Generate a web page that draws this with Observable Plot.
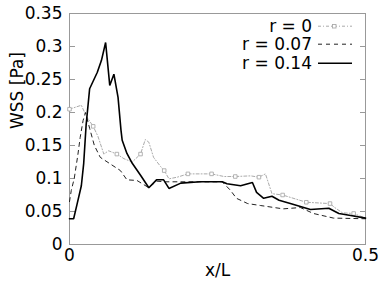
<!DOCTYPE html>
<html>
<head>
<meta charset="utf-8">
<script src="https://cdn.jsdelivr.net/npm/d3@7"></script>
<script src="https://cdn.jsdelivr.net/npm/@observablehq/plot@0.6"></script>
<style>
  body { margin: 0; background: #fff; }
  #wrap { position: relative; width: 385px; height: 286px; font-family: "DejaVu Sans", sans-serif; }
  #legend { position: absolute; left: 0; top: 17px; width: 385px; font-size: 17px; color: #000; }
  .row { position: relative; height: 18.3px; line-height: 18.3px; }
  .row span { position: absolute; right: 73px; white-space: nowrap; }
  .row svg { position: absolute; left: 317px; top: 0; }
</style>
</head>
<body>
<div id="wrap"><div id="legend"></div></div>
<script>
// Series: r = 0 (dash-dot with square markers)
const r0X = [0, 0.020, 0.028, 0.040, 0.048, 0.058, 0.066, 0.080, 0.092, 0.106, 0.120, 0.128, 0.134, 0.142, 0.154, 0.160, 0.168, 0.182, 0.200, 0.240, 0.261, 0.280, 0.306, 0.320, 0.331, 0.342, 0.360, 0.400, 0.440, 0.448, 0.461, 0.480, 0.500];
const r0Y = [0.205, 0.211, 0.195, 0.179, 0.164, 0.137, 0.142, 0.137, 0.130, 0.125, 0.137, 0.159, 0.155, 0.132, 0.118, 0.112, 0.0995, 0.102, 0.107, 0.107, 0.103, 0.103, 0.104, 0.102, 0.107, 0.077, 0.075, 0.064, 0.062, 0.056, 0.048, 0.047, 0.040];
const r0MarkerX = [0, 0.040, 0.080, 0.120, 0.160, 0.200, 0.240, 0.280, 0.320, 0.360, 0.400, 0.440, 0.480];

// Series: r = 0.07 (dashed)
const r07X = [0, 0.003, 0.008, 0.014, 0.018, 0.023, 0.027, 0.034, 0.042, 0.052, 0.069, 0.086, 0.097, 0.114, 0.134, 0.147, 0.162, 0.188, 0.221, 0.258, 0.272, 0.282, 0.301, 0.323, 0.361, 0.390, 0.412, 0.446, 0.500];
const r07Y = [0.065, 0.082, 0.100, 0.135, 0.162, 0.188, 0.200, 0.176, 0.150, 0.132, 0.122, 0.112, 0.098, 0.097, 0.086, 0.096, 0.095, 0.095, 0.095, 0.095, 0.082, 0.070, 0.062, 0.059, 0.054, 0.056, 0.047, 0.040, 0.039];

// Series: r = 0.14 (solid)
const r14X = [0, 0.007, 0.013, 0.020, 0.024, 0.028, 0.034, 0.047, 0.054, 0.061, 0.068, 0.075, 0.082, 0.087, 0.089, 0.097, 0.106, 0.120, 0.134, 0.147, 0.159, 0.168, 0.188, 0.221, 0.258, 0.266, 0.289, 0.309, 0.316, 0.328, 0.342, 0.354, 0.373, 0.407, 0.438, 0.455, 0.475, 0.500];
const r14Y = [0.039, 0.039, 0.062, 0.089, 0.123, 0.180, 0.236, 0.261, 0.279, 0.306, 0.241, 0.258, 0.223, 0.173, 0.158, 0.138, 0.123, 0.105, 0.086, 0.098, 0.098, 0.085, 0.093, 0.095, 0.095, 0.092, 0.089, 0.094, 0.079, 0.070, 0.073, 0.067, 0.062, 0.053, 0.055, 0.047, 0.044, 0.040];

const seriesNames = ["r = 0", "r = 0.07", "r = 0.14"];
const yTicks = [0, 0.05, 0.1, 0.15, 0.2, 0.25, 0.3, 0.35];
const yTickLabels = ["0", "0.05", "0.1", "0.15", "0.2", "0.25", "0.3", "0.35"];
const xTicks = [0, 0.5];
const xTickLabels = ["0", "0.5"];
const xLabel = "x/L";
const yLabel = "WSS [Pa]";

const styles = [
  {stroke: "#aaa", strokeWidth: 1, strokeDasharray: "3,2,1,2"},
  {stroke: "#222", strokeWidth: 1, strokeDasharray: "4,4"},
  {stroke: "#000", strokeWidth: 1.6, strokeDasharray: null}
];

const toRows = (xs, ys) => xs.map((x, i) => ({x, y: ys[i]}));
const r0 = toRows(r0X, r0Y);
const r07 = toRows(r07X, r07Y);
const r14 = toRows(r14X, r14Y);
const r0Markers = r0.filter(d => r0MarkerX.includes(d.x));

const chart = Plot.plot({
  width: 385,
  height: 286,
  marginLeft: 69,
  marginRight: 20,
  marginTop: 13,
  marginBottom: 42,
  style: {fontFamily: "DejaVu Sans, sans-serif", fontSize: "17px", background: "#fff", overflow: "visible"},
  x: {domain: [0, 0.5]},
  y: {domain: [0, 0.35]},
  marks: [
    Plot.axisY(yTicks, {anchor: "left", tickSize: 0, tickPadding: 7, fontSize: 17, fill: "#000", tickFormat: d => yTickLabels[yTicks.indexOf(d)], label: null}),
    Plot.axisY(yTicks, {anchor: "left", tickSize: -6, stroke: "#999", tickFormat: () => "", label: null}),
    Plot.axisY(yTicks, {anchor: "right", tickSize: -6, stroke: "#999", tickFormat: () => "", label: null}),
    Plot.axisX(xTicks, {anchor: "bottom", tickSize: 0, tickPadding: 4, fontSize: 17, fill: "#000", tickFormat: d => xTickLabels[xTicks.indexOf(d)], label: null}),
    Plot.frame({stroke: "#999", strokeWidth: 1}),
    Plot.line(r0, {x: "x", y: "y", ...styles[0]}),
    Plot.dot(r0Markers, {x: "x", y: "y", symbol: "square", r: 2, stroke: "#aaa", strokeWidth: 0.9, fill: "white"}),
    Plot.line(r07, {x: "x", y: "y", ...styles[1]}),
    Plot.line(r14, {x: "x", y: "y", ...styles[2], strokeLinejoin: "miter"}),
    Plot.text([yLabel], {text: d => d, frameAnchor: "left", dx: -52, rotate: -90, fontSize: 17, fill: "#000"}),
    Plot.text([xLabel], {text: d => d, frameAnchor: "bottom", dy: 31, fontSize: 17, fill: "#000"})
  ]
});
document.getElementById("wrap").prepend(chart);

// Legend
const legend = document.getElementById("legend");
seriesNames.forEach((name, i) => {
  const row = document.createElement("div");
  row.className = "row";
  const s = styles[i];
  const marker = i === 0 ? `<rect x="15.5" y="7.5" width="3.5" height="3.5" fill="white" stroke="${s.stroke}" stroke-width="0.9"/>` : "";
  row.innerHTML = `<span>${name}</span><svg width="36" height="18.3"><line x1="1" x2="35" y1="9.2" y2="9.2" stroke="${s.stroke}" stroke-width="${s.strokeWidth}" ${s.strokeDasharray ? `stroke-dasharray="${s.strokeDasharray}"` : ""}/>${marker}</svg>`;
  legend.appendChild(row);
});
</script>
</body>
</html>
